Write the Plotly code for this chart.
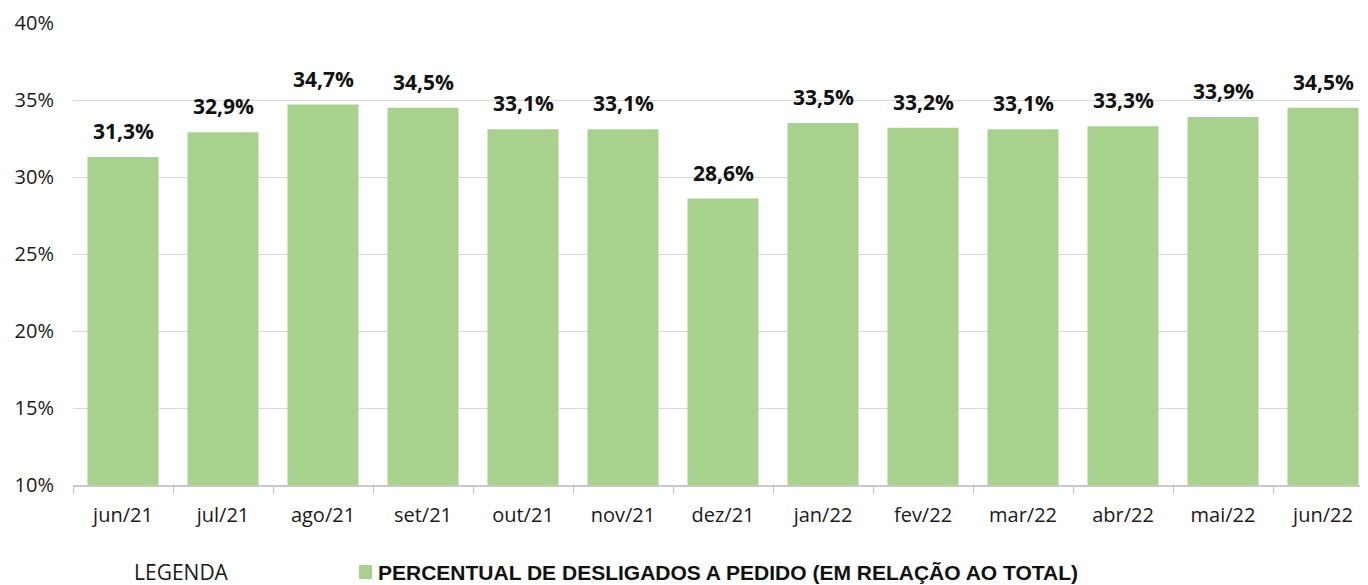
import plotly.graph_objects as go

months = ["jun/21", "jul/21", "ago/21", "set/21", "out/21", "nov/21", "dez/21",
          "jan/22", "fev/22", "mar/22", "abr/22", "mai/22", "jun/22"]
pct = [31.3, 32.9, 34.7, 34.5, 33.1, 33.1, 28.6, 33.5, 33.2, 33.1, 33.3, 33.9, 34.5]
y_ticks = [10, 15, 20, 25, 30, 35, 40]

green = "#a9d18e"
tick_font = dict(family="Open Sans, sans-serif", size=20, color="#1a1a1a")

# page has an 8px body margin, so the figure is a little smaller than the window
PX0, PY0 = 73, 23      # plot area top-left in page pixels
PW, PH = 1295, 462     # plot area size


def px(x):
    return (x - PX0) / PW


def py(y):
    return (PY0 + PH - y) / PH


fig = go.Figure()
fig.add_trace(go.Bar(
    x=months,
    y=pct,
    marker=dict(color=green, line=dict(width=0)),
    width=0.71,
    showlegend=False,
))

# value labels above each bar
for m, v in zip(months, pct):
    fig.add_annotation(
        x=m, y=v, text=f"{v:.1f}%".replace(".", ","),
        showarrow=False, yanchor="bottom", yshift=10,
        font=dict(family="Open Sans, sans-serif", size=21, color="#111111", weight="bold"),
    )

# legend drawn by hand (kept just inside the bottom edge)
fig.add_shape(type="rect", xref="paper", yref="paper",
              x0=px(359), x1=px(372), y0=py(565), y1=py(579),
              fillcolor=green, line=dict(width=0))
fig.add_annotation(xref="paper", yref="paper", x=px(376), y=py(572),
                   text="PERCENTUAL DE DESLIGADOS A PEDIDO (EM RELAÇÃO AO TOTAL)",
                   showarrow=False, xanchor="left", yanchor="middle",
                   font=dict(family="Liberation Sans, Arial, sans-serif", size=21,
                             color="#111111", weight="bold"))
fig.add_annotation(xref="paper", yref="paper", x=px(181), y=py(572),
                   text="LEGENDA", showarrow=False, xanchor="center", yanchor="middle",
                   font=dict(family="Open Sans, sans-serif", size=21, color="#1a1a1a"))

fig.update_layout(
    width=1360,
    height=577,
    paper_bgcolor="white",
    plot_bgcolor="white",
    margin=dict(l=65, r=0, t=15, b=100),
    bargap=0.29,
    xaxis=dict(
        range=[-0.5, 12.45],
        tickfont=tick_font,
        showgrid=False,
        showline=True,
        linecolor="#c8c8c8",
        linewidth=1.5,
        ticks="outside",
        tickson="boundaries",
        ticklen=7,
        tickcolor="#c8c8c8",
        ticklabelstandoff=11,
    ),
    yaxis=dict(
        range=[10, 40],
        tickvals=y_ticks,
        ticktext=[f"{t}%" for t in y_ticks],
        tickfont=tick_font,
        showgrid=True,
        gridcolor="#d9d9d9",
        gridwidth=1.3,
        zeroline=False,
        showline=False,
        ticklabelstandoff=18,
    ),
)

fig.write_html("out.html")
